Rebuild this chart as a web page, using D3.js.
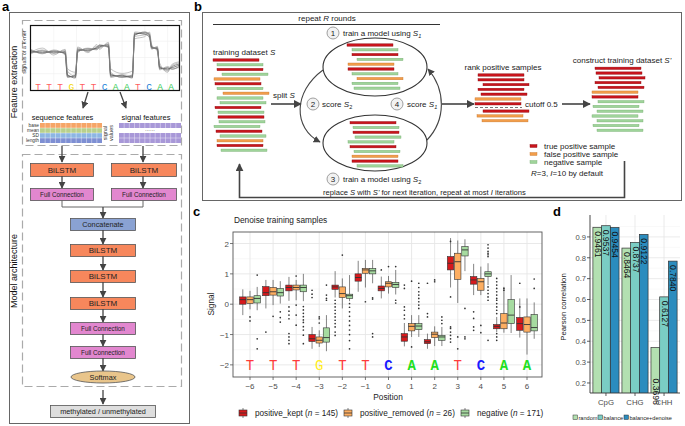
<!DOCTYPE html>
<html><head><meta charset="utf-8">
<script src="https://cdn.jsdelivr.net/npm/d3@7"></script>
<style>
html,body{margin:0;padding:0;background:#fff;}
svg{display:block;font-family:"Liberation Sans",Arial,sans-serif;}
</style></head>
<body><svg id="fig" width="685" height="426"></svg>
<script>
// ---------------- DATA ----------------
// panel a: k-mer and schematic signal traces (base units vs. normalized signal)
const kmerBases = ["T","T","T","G","T","T","C","A","A","T","C","A","A"];
const traceU = [0,1,2,3,3.2,3.9,4.1,5,5.8,6,6.8,7,8,8.9,9.1,10,10.4,10.6,11.1,11.3,12,12.4,13];
const traces = [
 [0.15,0.12,0.14,0.10,-0.90,-0.95,0.20,0.22,0.30,0.38,0.40,-0.88,-0.92,-0.95,0.90,0.96,0.85,0.32,0.28,-0.55,-0.60,-0.55,-0.45],
 [0.10,0.18,0.08,0.15,-0.85,-1.00,0.25,0.18,0.35,0.42,0.36,-0.82,-0.96,-0.90,0.95,0.90,0.80,0.28,0.33,-0.50,-0.65,-0.50,-0.40],
 [0.20,0.08,0.18,0.05,-0.95,-0.88,0.15,0.27,0.26,0.33,0.45,-0.93,-0.88,-1.00,0.85,1.00,0.90,0.36,0.24,-0.60,-0.55,-0.62,-0.50],
 [0.05,0.22,0.10,0.20,-0.70,-0.92,0.30,0.15,0.38,0.30,0.50,-0.75,-0.98,-0.85,0.80,0.88,0.95,0.40,0.20,-0.45,-0.70,-0.45,-0.35],
 [0.25,0.05,0.22,0.00,-0.98,-0.80,0.10,0.30,0.22,0.45,0.30,-0.98,-0.85,-0.92,1.00,0.92,0.75,0.25,0.38,-0.65,-0.50,-0.58,-0.55],
 [0.12,0.30,0.00,0.25,-0.60,-0.75,0.35,0.10,0.45,0.25,0.55,-0.60,-0.80,-0.70,0.70,0.80,1.00,0.45,0.15,-0.35,-0.75,-0.40,-0.30]
];
const seqFeatureRows = ["base","mean","SD","length"];
const modelLayers = ["BiLSTM","BiLSTM","BiLSTM","Full Connection","Full Connection"];

// panel b: schematic sample bars (r = true positive, o = false positive, g = negative)
const trainingS = ["r","g","r","g","o","r","g","o","g","g","r","g","r","g","g","r","g","o","r","g"];
const subsetS1 = ["r","g","r","g","o","r","g","o","g","g"];
const subsetS2 = ["r","g","r","g","g","r","g","o","r","g"];
const rankedPos = ["r","r","r","r","r","o","r","r","o","o"];
const newS = ["r","r","r","r","r","o","r","g","g","g","g","g","g","g"];
const legendB = ["true positive sample","false positive sample","negative sample"];

// panel c: boxplot statistics [lower whisker, Q1, median, Q3, upper whisker]
const positions = [-6,-5,-4,-3,-2,-1,0,1,2,3,4,5,6];
const posBases = ["T","T","T","G","T","T","C","A","A","T","C","A","A"];
const groups = ["positive_kept","positive_removed","negative"];
const groupN = [145,26,171];
const keptStats = [
 [-0.36,0.00,0.15,0.24,0.49],[-0.14,0.28,0.38,0.58,0.80],[0.11,0.44,0.55,0.63,0.90],
 [-1.47,-1.23,-1.14,-1.00,-0.75],[0.22,0.49,0.57,0.63,1.09],[0.41,0.76,0.88,1.00,1.43],
 [0.19,0.44,0.52,0.60,0.91],[-1.39,-1.22,-1.08,-0.97,-0.62],[-1.47,-1.30,-1.24,-1.17,-0.97],
 [0.55,1.13,1.35,1.57,2.18],[0.30,0.66,0.80,0.91,1.33],[-0.92,-0.81,-0.73,-0.67,-0.42],
 [-1.10,-0.86,-0.64,-0.44,0.19]];
const removedStats = [
 [-0.17,0.02,0.15,0.24,0.44],[-0.03,0.30,0.41,0.55,0.80],[0.13,0.47,0.55,0.63,0.80],
 [-1.41,-1.28,-1.19,-1.08,-0.86],[-0.14,0.22,0.35,0.57,0.85],[0.55,1.02,1.13,1.18,1.46],
 [0.35,0.57,0.69,0.74,0.93],[-1.08,-0.88,-0.73,-0.64,-0.36],[-1.38,-1.10,-0.99,-0.92,-0.73],
 [0.04,0.82,1.40,1.68,2.10],[0.30,0.46,0.74,0.85,1.24],[-0.94,-0.81,-0.62,-0.31,0.57],
 [-1.66,-0.92,-0.67,-0.42,0.19]];
const negativeStats = [
 [-0.20,0.04,0.19,0.28,0.57],[0.02,0.27,0.38,0.52,0.76],[0.10,0.41,0.55,0.63,1.00],
 [-1.55,-1.25,-1.10,-0.78,-0.36],[0.10,0.19,0.28,0.33,0.96],[0.69,1.00,1.10,1.18,1.46],
 [0.32,0.55,0.65,0.72,1.13],[-1.08,-0.84,-0.72,-0.64,-0.36],[-1.38,-1.19,-1.08,-1.03,-0.75],
 [1.09,1.59,1.79,1.90,2.14],[0.63,0.91,1.00,1.07,1.35],[-0.95,-0.64,-0.36,0.15,0.96],
 [-1.14,-0.88,-0.77,-0.34,0.06]];
const keptOut = [[],[-0.92],[-0.09,-0.23,-0.36,-0.48,-0.97,-1.08,-1.19,-1.30],[0.46,0.33,0.22],
 [0.13,0.02,-0.09,-0.20,-0.31,-0.42,-0.53,-0.64,-0.75,-0.92,-1.03],[],[1.13],
 [0.63,0.52,-0.09,-0.20,-0.36,-0.48],[0.69,-0.31,-0.42],[2.07,0.24,-0.75,-0.80,-0.92,-1.03,-1.14,-1.25],
 [-0.25,-0.47,-0.75,-0.86],[0.85,0.74,0.63,0.52,0.41,0.30,0.19,0.13,0.02,-0.09,-0.20,-0.31,-0.97,-1.08,-1.19],
 [0.69,-0.09]];
const removedOut = [[-0.42,-0.55],[-0.40],[0.93,-0.03,-0.36,-0.69],[-0.42,-0.48,-0.62],[1.62],[0.08],[1.24],
 [0.76,-1.41],[0.80,0.74],[-1.08,-1.47],[-0.70,-0.94],[0.52,0.46],[]];
const negativeOut = [[0.96,-1.14,-1.47],[-0.25,-0.44,-0.59],[-0.08,-0.19,-0.30,-0.41,-0.52,-0.60,-0.74,-0.85,-1.02,-1.30],
 [0.63,0.30,0.19,0.13],[0.02,-0.10,-0.25,-0.40,-0.55,-0.70,-0.85,-1.00,-1.20,-1.47],[0.21,0.17,-0.97,-1.08],
 [1.24,0.13,0.04],[0.69,0.55,0.41,0.30,0.19,0.08,-0.03,-0.14],[-0.42,-0.53,-0.64],[-0.14,-1.08,-1.14],
 [1.96,1.85,1.74,1.68,1.63,1.57,0.57,0.46,0.35,0.24,0.13,-1.19],[],[0.83,0.52]];
const yTicksC = [-2,-1,0,1,2];

// panel d: Pearson correlation
const contexts = ["CpG","CHG","CHH"];
const methods = ["random","balance","balance+denoise"];
const randomVals = [0.9461,0.8464,0.3696];
const balanceVals = [0.9537,0.8737,0.6127];
const denoiseVals = [0.9454,0.9122,0.7840];
const yTicksD = [0.2,0.3,0.4,0.5,0.6,0.7,0.8,0.9];

// ---------------- STYLE ----------------
const svg = d3.select("#fig");
const dark = "#444";
const defs = svg.append("defs");
defs.append("marker").attr("id","ah").attr("viewBox","0 0 10 10").attr("refX",9).attr("refY",5)
  .attr("markerWidth",8).attr("markerHeight",8).attr("markerUnits","userSpaceOnUse").attr("orient","auto")
  .append("path").attr("d","M0,0 L10,5 L0,10 z").attr("fill",dark);
defs.append("marker").attr("id","ahs").attr("viewBox","0 0 10 10").attr("refX",9).attr("refY",5)
  .attr("markerWidth",7).attr("markerHeight",7).attr("markerUnits","userSpaceOnUse").attr("orient","auto")
  .append("path").attr("d","M0,0 L10,5 L0,10 z").attr("fill",dark);

function txt(g,x,y,s,size,opts={}){
  const t=g.append("text").attr("x",x).attr("y",y).attr("font-size",size).attr("fill",opts.fill||"#222")
   .attr("text-anchor",opts.anchor||"start").text(s);
  if(opts.weight) t.attr("font-weight",opts.weight);
  if(opts.family) t.attr("font-family",opts.family);
  if(opts.rotate!==undefined) t.attr("transform",`rotate(${opts.rotate},${x},${y})`);
  return t;
}
function rich(g,x,y,parts,size,anchor){
  const t=g.append("text").attr("x",x).attr("y",y).attr("font-size",size).attr("fill","#222").attr("text-anchor",anchor||"start");
  parts.forEach(p=>{
    const s=t.append("tspan").text(p.t);
    if(p.i) s.attr("font-style","italic");
    if(p.sub) s.attr("font-size",size*0.7).attr("dy",size*0.25);
  });
  return t;
}
function arrow(g,x1,y1,x2,y2,w,m){
  g.append("line").attr("x1",x1).attr("y1",y1).attr("x2",x2).attr("y2",y2)
   .attr("stroke",dark).attr("stroke-width",w||1.5).attr("marker-end",`url(#${m||"ah"})`);
}

// panel labels
[["a",2,11],["b",194,11],["c",193,216],["d",553,216]].forEach(l=>txt(svg,l[1],l[2],l[0],13,{weight:"bold",fill:"#000"}));

// ---------------- PANEL A ----------------
const A = svg.append("g");
A.append("rect").attr("x",9.5).attr("y",12.5).attr("width",180).attr("height",411).attr("fill","none").attr("stroke","#666").attr("stroke-width",1);
A.append("rect").attr("x",22.5).attr("y",20.5).attr("width",159).attr("height",125).attr("fill","none").attr("stroke","#aaa").attr("stroke-width",1.2).attr("stroke-dasharray","8,4");
A.append("rect").attr("x",22.5).attr("y",154.5).attr("width",159).attr("height",232).attr("fill","none").attr("stroke","#aaa").attr("stroke-width",1.2).attr("stroke-dasharray","8,4");
txt(A,17,82,"Feature extraction",9,{anchor:"middle",rotate:-90,fill:"#111"});
txt(A,17,271,"Model architecture",9,{anchor:"middle",rotate:-90,fill:"#111"});
txt(A,26,52,"signals of a k-mer",5.5,{anchor:"middle",rotate:-90,fill:"#333"});

// signal plot
const xs = d3.scaleLinear().domain([0,13]).range([31,179]);
const ys = d3.scaleLinear().domain([-1,1]).range([78,32]);
const sp = A.append("g");
[0.25,0.5,0.75].forEach(f=>sp.append("line").attr("x1",31).attr("x2",179).attr("y1",25+65*f).attr("y2",25+65*f).attr("stroke","#eee").attr("stroke-width",0.6));
[2,4,6,8,10,12].forEach(u=>sp.append("line").attr("x1",xs(u)).attr("x2",xs(u)).attr("y1",26).attr("y2",90).attr("stroke","#f0f0f0").attr("stroke-width",0.6));
const line = d3.line().x((d,i)=>xs(traceU[i])).y(d=>ys(d)).curve(d3.curveMonotoneX);
traces.forEach((t,k)=>sp.append("path").attr("d",line(t)).attr("fill","none")
   .attr("stroke",k<3?"#444":"#888").attr("stroke-opacity",k<3?0.6:0.5).attr("stroke-width",1));
sp.append("rect").attr("x",30.5).attr("y",25.5).attr("width",149).attr("height",65).attr("fill","none").attr("stroke","#111").attr("stroke-width",1.2);
const baseCol = {T:"#ff5f5f",G:"#f2d600",C:"#1e7fd8",A:"#3ccc5a"};
kmerBases.forEach((b,i)=>txt(sp,38+i*11.1,90,b,9.5,{anchor:"middle",fill:baseCol[b],family:"Liberation Mono, monospace"}));
arrow(A,88,92,83,108,1.3,"ahs");
arrow(A,120,92,126,108,1.3,"ahs");

// feature grids
txt(A,62.5,120,"sequence features",7.5,{anchor:"middle",fill:"#111"});
txt(A,146,120,"signal features",7.5,{anchor:"middle",fill:"#111"});
const seqCols = ["#f6a567","#b8d08c","#8db6e3","#7e8fd3"];
seqFeatureRows.forEach((r,i)=>{
  A.append("rect").attr("x",40).attr("y",123+i*5).attr("width",62).attr("height",5).attr("fill",seqCols[i]);
  txt(A,39,127+i*5,r,4.8,{anchor:"end",fill:"#333"});
});
for(let c=1;c<12;c++){A.append("line").attr("x1",40+c*62/12).attr("x2",40+c*62/12).attr("y1",123).attr("y2",143).attr("stroke","#fff").attr("stroke-width",0.4);}
for(let r=1;r<4;r++){A.append("line").attr("x1",40).attr("x2",102).attr("y1",123+r*5).attr("y2",123+r*5).attr("stroke","#fff").attr("stroke-width",0.4);}
const sigCol="#a898d8";
[[123,5],[133,10]].forEach(([y,h])=>A.append("rect").attr("x",119).attr("y",y).attr("width",62).attr("height",h).attr("fill",sigCol));
for(let c=1;c<12;c++){A.append("line").attr("x1",119+c*62/12).attr("x2",119+c*62/12).attr("y1",123).attr("y2",143).attr("stroke","#fff").attr("stroke-width",0.4);}
A.append("rect").attr("x",119).attr("y",128).attr("width",62).attr("height",5).attr("fill","#fff");
A.append("line").attr("x1",119).attr("x2",181).attr("y1",138).attr("y2",138).attr("stroke","#fff").attr("stroke-width",0.4);
txt(A,150,131,"......",6,{anchor:"middle",fill:"#555"});
txt(A,107,133,"signal",5.5,{anchor:"middle",rotate:-90,fill:"#333"});
txt(A,112.5,133,"values",5.5,{anchor:"middle",rotate:-90,fill:"#333"});

// model architecture boxes
function box(x,y,w,h,fill,label,size){
  A.append("rect").attr("x",x+0.5).attr("y",y+0.5).attr("width",w).attr("height",h).attr("fill",fill).attr("stroke","#555").attr("stroke-width",0.8);
  txt(A,x+w/2+0.5,y+h/2+size*0.36+0.5,label,size,{anchor:"middle",fill:"#222"});
}
const cBi="#f7875c", cFC="#e287cf", cCat="#8aa2d3";
arrow(A,62,146,62,162,1.3,"ahs"); arrow(A,143,146,143,162,1.3,"ahs");
box(30,163,63,13,cBi,"BiLSTM",8); box(111,163,65,13,cBi,"BiLSTM",8);
arrow(A,62,176,62,188,1.3,"ahs"); arrow(A,143,176,143,188,1.3,"ahs");
box(30,188,63,12,cFC,"Full Connection",6.3); box(111,188,65,12,cFC,"Full Connection",6.3);
A.append("path").attr("d","M62,200 V207 H143 V200").attr("fill","none").attr("stroke","#666").attr("stroke-width",1);
arrow(A,103,207,103,218,1.3,"ahs");
box(70,218,65,12,cCat,"Concatenate",7.3);
let yy=230;
const layerTops=[244,270,297,322,346];
modelLayers.forEach((l,i)=>{
  arrow(A,103,yy,103,layerTops[i],1.3,"ahs");
  const isBi = l==="BiLSTM";
  box(70,layerTops[i],65,12,isBi?cBi:cFC,l,isBi?8:6.3);
  yy=layerTops[i]+12;
});
arrow(A,103,yy,103,371,1.3,"ahs");
A.append("ellipse").attr("cx",103).attr("cy",377).attr("rx",32).attr("ry",6).attr("fill","#e9c58b").attr("stroke","#555").attr("stroke-width",0.8);
txt(A,103,380,"Softmax",7.3,{anchor:"middle"});
arrow(A,103,390,103,404,1.3,"ahs");
A.append("rect").attr("x",50.5).attr("y",405.5).attr("width",105).attr("height",12).attr("fill","#dedede").attr("stroke","#555").attr("stroke-width",0.8);
txt(A,103,414,"methylated / unmethylated",7.3,{anchor:"middle"});

// ---------------- PANEL B ----------------
const B = svg.append("g");
B.append("rect").attr("x",202.5).attr("y",12.5).attr("width",479).attr("height",188).attr("fill","none").attr("stroke","#666").attr("stroke-width",1);
const bCol = {r:"#c9141c",o:"#f29d4a",g:"#9fd49a"};
const bStroke = {r:"#8e0e12",o:"#c7772d",g:"#77ad72"};
function barStack(arr,x0,y0,dy,offs,gapAfter){
  arr.forEach((c,i)=>{
    const y = y0 + i*dy + (gapAfter!==undefined && i>gapAfter ? 2.5:0);
    B.append("rect").attr("x",x0+offs[i%offs.length]).attr("y",y-1.2).attr("width",46).attr("height",2.4)
      .attr("fill",bCol[c]).attr("stroke",bStroke[c]).attr("stroke-width",0.4);
  });
}
const jit1=[0,4,4,9,1,2,4,10,4,7,2,5,5,6,1,3,7,4,4,8];
rich(B,327,21,[{t:"repeat "},{t:"R",i:1},{t:" rounds"}],8,"middle");
B.append("line").attr("x1",213).attr("x2",440).attr("y1",24.5).attr("y2",24.5).attr("stroke","#333").attr("stroke-width",1);
rich(B,213,55,[{t:"training dataset "},{t:"S",i:1}],8);
barStack(trainingS,213,60,4.75,jit1);
B.append("ellipse").attr("cx",375).attr("cy",67).attr("rx",52).attr("ry",29).attr("fill","none").attr("stroke","#333").attr("stroke-width",1.1);
B.append("ellipse").attr("cx",375).attr("cy",143).attr("rx",52).attr("ry",28).attr("fill","none").attr("stroke","#333").attr("stroke-width",1.1);
barStack(subsetS1,347,45,4.8,[0,5,5,10,1,1,5,10,5,7]);
barStack(subsetS2,348,122.7,4.8,[2,5,5,7,0,2,6,4,4,9]);
B.append("path").attr("d","M323,70 C293,92 293,128 320,142").attr("fill","none").attr("stroke",dark).attr("stroke-width",1.1).attr("marker-end","url(#ahs)");
B.append("path").attr("d","M427,140 C446,120 446,90 428,69").attr("fill","none").attr("stroke",dark).attr("stroke-width",1.1).attr("marker-end","url(#ahs)");
function numCircle(x,y,n){
  B.append("circle").attr("cx",x).attr("cy",y).attr("r",6).attr("fill","#f2f2f2").attr("stroke","#888").attr("stroke-width",0.8);
  txt(B,x,y+3,n,8,{anchor:"middle"});
}
numCircle(333,33,"1"); rich(B,343,36,[{t:"train a model using "},{t:"S",i:1},{t:"1",i:1,sub:1}],8);
numCircle(313,104,"2"); rich(B,322,107,[{t:"score "},{t:"S",i:1},{t:"2",sub:1}],8);
numCircle(397,104,"4"); rich(B,407,107,[{t:"score "},{t:"S",i:1},{t:"1",i:1,sub:1}],8);
numCircle(333,179,"3"); rich(B,343,182,[{t:"train a model using "},{t:"S",i:1},{t:"2",sub:1}],8);
rich(B,273,98,[{t:"split "},{t:"S",i:1}],8);
arrow(B,271,104,301,104,1.6);
arrow(B,442,104,474,104,1.6);
txt(B,503,70,"rank positive samples",8,{anchor:"middle"});
barStack(rankedPos,475,75,4.8,[3,3,8,3,6,0,0,8,2,7],6);
B.append("line").attr("x1",475).attr("x2",522).attr("y1",107.5).attr("y2",107.5).attr("stroke","#555").attr("stroke-width",0.8).attr("stroke-dasharray","3,2");
txt(B,525,107,"cutoff 0.5",8);
arrow(B,562,104,590,104,1.6);
rich(B,622,63,[{t:"construct training dataset "},{t:"S'",i:1}],8,"middle");
barStack(newS,592,68.3,4.77,[3,4,7,3,6,0,0,6,1,5,0,5,1,5]);
legendB.forEach((l,i)=>{
  const c=["r","o","g"][i];
  B.append("rect").attr("x",530).attr("y",144.5+i*8).attr("width",7).attr("height",3).attr("fill",bCol[c]).attr("stroke",bStroke[c]).attr("stroke-width",0.4);
  txt(B,544,149+i*8,l,8);
});
rich(B,531,176,[{t:"R",i:1},{t:"=3, "},{t:"I",i:1},{t:"=10 by default"}],8);
B.append("path").attr("d","M624.5,161 V197.5 H239.5 V164").attr("fill","none").attr("stroke",dark).attr("stroke-width",1.6).attr("marker-end","url(#ah)");
rich(B,323,194.5,[{t:"replace "},{t:"S",i:1},{t:" with "},{t:"S'",i:1},{t:" for next iteration, repeat at most "},{t:"I",i:1},{t:" iterations"}],7.6);

// ---------------- PANEL C ----------------
const C = svg.append("g");
const cL=233,cR=542,cT=232,cB=377;
const xC = d3.scalePoint().domain(positions).range([250,527]);
const yC = d3.scaleLinear().domain([-2.4,2.38]).range([cB,cT]);
txt(C,234,223,"Denoise training samples",8.3,{fill:"#222"});
C.append("rect").attr("x",cL).attr("y",cT).attr("width",cR-cL).attr("height",cB-cT).attr("fill","#fff");
[-1.5,-0.5,0.5,1.5].forEach(v=>C.append("line").attr("x1",cL).attr("x2",cR).attr("y1",yC(v)).attr("y2",yC(v)).attr("stroke","#f0f0f0").attr("stroke-width",0.5));
yTicksC.forEach(v=>C.append("line").attr("x1",cL).attr("x2",cR).attr("y1",yC(v)).attr("y2",yC(v)).attr("stroke","#e6e6e6").attr("stroke-width",0.9));
positions.forEach(p=>C.append("line").attr("x1",xC(p)).attr("x2",xC(p)).attr("y1",cT).attr("y2",cB).attr("stroke","#e6e6e6").attr("stroke-width",0.9));
const gStats=[keptStats,removedStats,negativeStats];
const gOut=[keptOut,removedOut,negativeOut];
const gFill=["#d7191c","#fdae61","#a6dba0"];
const gOff=[-7.2,0,7.2], bw=6.4;
positions.forEach((p,i)=>{
  gStats.forEach((st,g)=>{
    const s=st[i], cx=xC(p)+gOff[g];
    C.append("line").attr("x1",cx).attr("x2",cx).attr("y1",yC(s[4])).attr("y2",yC(s[0])).attr("stroke","#333").attr("stroke-width",0.6);
    C.append("rect").attr("x",cx-bw/2).attr("y",yC(s[3])).attr("width",bw).attr("height",yC(s[1])-yC(s[3]))
      .attr("fill",gFill[g]).attr("stroke","#333").attr("stroke-width",0.6);
    C.append("line").attr("x1",cx-bw/2).attr("x2",cx+bw/2).attr("y1",yC(s[2])).attr("y2",yC(s[2])).attr("stroke","#333").attr("stroke-width",0.9);
    gOut[g][i].forEach(v=>C.append("circle").attr("cx",cx).attr("cy",yC(v)).attr("r",0.85).attr("fill","#333"));
  });
});
const cBaseCol={T:"#ff3b3b",G:"#ffee22",C:"#1a1aff",A:"#1fe01f"};
positions.forEach((p,i)=>txt(C,xC(p),yC(-2)+5,posBases[i],14,{anchor:"middle",fill:cBaseCol[posBases[i]],family:"Liberation Mono, monospace",weight:posBases[i]==="T"||posBases[i]==="G"?"normal":"bold"}));
C.append("rect").attr("x",cL).attr("y",cT).attr("width",cR-cL).attr("height",cB-cT).attr("fill","none").attr("stroke","#555").attr("stroke-width",0.9);
yTicksC.forEach(v=>{
  C.append("line").attr("x1",cL-3).attr("x2",cL).attr("y1",yC(v)).attr("y2",yC(v)).attr("stroke","#555").attr("stroke-width",0.8);
  txt(C,cL-4,yC(v)+3,String(v).replace("-","\u2212"),8,{anchor:"end",fill:"#4d4d4d"});
});
positions.forEach(p=>{
  C.append("line").attr("x1",xC(p)).attr("x2",xC(p)).attr("y1",cB).attr("y2",cB+3).attr("stroke","#555").attr("stroke-width",0.8);
  txt(C,xC(p),cB+12,String(p).replace("-","\u2212"),8,{anchor:"middle",fill:"#4d4d4d"});
});
txt(C,388,400,"Position",8.3,{anchor:"middle"});
txt(C,214,304,"Signal",8.3,{anchor:"middle",rotate:-90});
const legX=[243,348,465];
groups.forEach((g,i)=>{
  const x=legX[i], y=413;
  C.append("line").attr("x1",x).attr("x2",x).attr("y1",y-5).attr("y2",y+5).attr("stroke","#333").attr("stroke-width",0.6);
  C.append("rect").attr("x",x-4).attr("y",y-3).attr("width",8).attr("height",6).attr("fill",gFill[i]).attr("stroke","#333").attr("stroke-width",0.6);
  C.append("line").attr("x1",x-4).attr("x2",x+4).attr("y1",y).attr("y2",y).attr("stroke","#333").attr("stroke-width",0.8);
  rich(C,x+12,y+3,[{t:g+" ("},{t:"n",i:1},{t:" = "+groupN[i]+")"}],8.2);
});

// ---------------- PANEL D ----------------
const D = svg.append("g");
const dL=590,dR=680,dT=215,dB=393;
const xD = d3.scaleBand().domain(contexts).range([dL,dR]).paddingInner(0.1).paddingOuter(0.1);
const xM = d3.scaleBand().domain(methods).range([0,xD.bandwidth()]);
const yD = d3.scaleLinear().domain([0.152,1.005]).range([dB,dT]);
[0.25,0.35,0.45,0.55,0.65,0.75,0.85,0.95].forEach(v=>D.append("line").attr("x1",dL).attr("x2",dR).attr("y1",yD(v)).attr("y2",yD(v)).attr("stroke","#f2f2f2").attr("stroke-width",0.5));
yTicksD.forEach(v=>D.append("line").attr("x1",dL).attr("x2",dR).attr("y1",yD(v)).attr("y2",yD(v)).attr("stroke","#e6e6e6").attr("stroke-width",0.8));
contexts.forEach(c=>D.append("line").attr("x1",xD(c)+xD.bandwidth()/2).attr("x2",xD(c)+xD.bandwidth()/2).attr("y1",dT).attr("y2",dB).attr("stroke","#e6e6e6").attr("stroke-width",0.8));
defs.append("clipPath").attr("id","clipD").append("rect").attr("x",dL).attr("y",dT).attr("width",dR-dL).attr("height",dB-dT);
const dVals=[randomVals,balanceVals,denoiseVals];
const dFill=["#b3e0b1","#7acdc4","#2b8cbe"];
const bars=D.append("g").attr("clip-path","url(#clipD)");
methods.forEach((m,k)=>{
  contexts.forEach((c,j)=>{
    const v=dVals[k][j], x=xD(c)+xM(m);
    bars.append("rect").attr("x",x).attr("y",yD(v)).attr("width",xM.bandwidth()).attr("height",dB+20-yD(v))
      .attr("fill",dFill[k]).attr("stroke","#333").attr("stroke-width",0.7);
  });
});
methods.forEach((m,k)=>{
  contexts.forEach((c,j)=>{
    const v=dVals[k][j], cx=xD(c)+xM(m)+xM.bandwidth()/2;
    const ty=yD(v)+(v<0.45?31:4);
    D.append("text").attr("transform",`translate(${cx+0.5},${ty}) rotate(90)`).attr("font-size",8.6).attr("fill","#111")
      .attr("dominant-baseline","central").attr("text-anchor","start").text(d3.format(".4f")(v));
  });
});
D.append("line").attr("x1",dL).attr("x2",dL).attr("y1",dT).attr("y2",dB).attr("stroke","#333").attr("stroke-width",0.9);
D.append("line").attr("x1",dL).attr("x2",dR).attr("y1",dB).attr("y2",dB).attr("stroke","#333").attr("stroke-width",0.9);
yTicksD.forEach(v=>{
  D.append("line").attr("x1",dL-3).attr("x2",dL).attr("y1",yD(v)).attr("y2",yD(v)).attr("stroke","#333").attr("stroke-width",0.8);
  txt(D,dL-4,yD(v)+2.8,d3.format(".1f")(v),7.6,{anchor:"end",fill:"#4d4d4d"});
});
contexts.forEach(c=>{
  const cx=xD(c)+xD.bandwidth()/2;
  D.append("line").attr("x1",cx).attr("x2",cx).attr("y1",dB).attr("y2",dB+3).attr("stroke","#333").attr("stroke-width",0.8);
  txt(D,cx,dB+12,c,7.8,{anchor:"middle",fill:"#4d4d4d"});
});
txt(D,566,307,"Pearson correlation",7.8,{anchor:"middle",rotate:-90});
const dLegX=[573,598,624];
methods.forEach((m,k)=>{
  D.append("rect").attr("x",dLegX[k]).attr("y",415).attr("width",4.5).attr("height",4.5).attr("fill",dFill[k]).attr("stroke","#333").attr("stroke-width",0.5);
  txt(D,dLegX[k]+5.5,419.5,m,5.6,{fill:"#222"});
});
</script></body></html>
